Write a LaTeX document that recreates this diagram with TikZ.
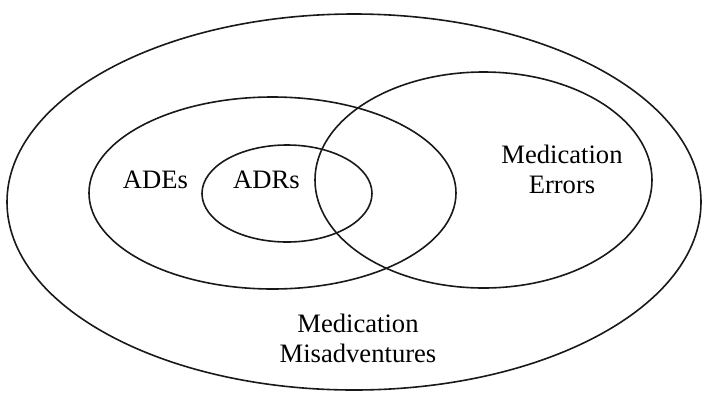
\documentclass[tikz,border=0pt]{standalone}
\usepackage{fontspec}
\setmainfont{Liberation Serif}
\begin{document}
\begin{tikzpicture}[x=1pt,y=-1pt,
  setline/.style={draw=black!90,line width=1.6pt},
  setlabel/.style={font=\fontsize{26.6}{30}\selectfont,align=center,anchor=base,inner sep=0pt}]
\useasboundingbox (0,0) rectangle (702,392);
% sets
\draw[setline] (354,202) ellipse [x radius=347, y radius=188];
\draw[setline] (272.5,193) ellipse [x radius=183.5, y radius=96];
\draw[setline] (287,193.5) ellipse [x radius=85, y radius=48.5];
\draw[setline] (483.5,180) ellipse [x radius=168.5, y radius=108];
% labels (base anchor sits on the last line)
\node[setlabel] (ades) at (155.5,188) {ADEs};
\node[setlabel] (adrs) at (266.5,188) {ADRs};
\node[setlabel] (errors) at (562,193) {Medication\\Errors};
\node[setlabel] (misadv) at (358,362) {Medication\\Misadventures};
\end{tikzpicture}
\end{document}
